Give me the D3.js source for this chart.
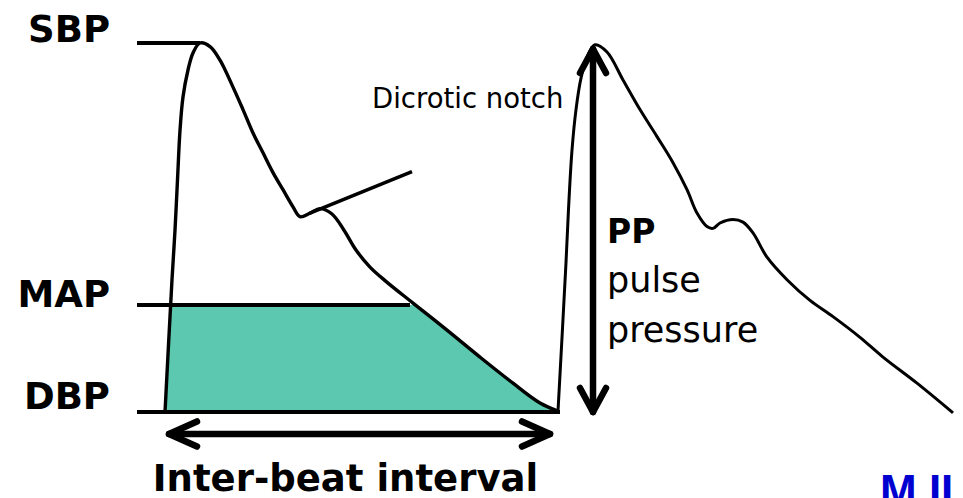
<!DOCTYPE html>
<html>
<head>
<meta charset="utf-8">
<script src="https://cdn.jsdelivr.net/npm/d3@7"></script>
<style>
  html, body { margin: 0; padding: 0; background: #fff; }
  svg { display: block; }
</style>
</head>
<body>
<div id="chart"></div>
<script>
// arterial pressure trace, two beats: time in ms, pressure in mmHg
const timeMs = [
  0, 14, 20, 25, 30, 36, 46, 56, 70, 90, 110, 136, 156, 176, 196, 216, 236, 256, 270,
  290, 310, 334, 358, 382, 410, 440, 496, 564, 630, 696, 750, 786,
  802, 808, 814, 822, 832, 844, 860, 884, 916, 950, 984, 1016, 1044, 1064, 1084, 1096,
  1110, 1136, 1156, 1176, 1204, 1244, 1290, 1336, 1390, 1436, 1504, 1576
];
const pressure = [
  80, 94.7, 100.2, 105.8, 111.3, 115, 118, 119.9, 121, 120.6, 119.1, 116.1, 113.6, 111, 108.8, 106.6, 104.7, 102.8, 101.7,
  102.1, 102.6, 102, 100.2, 98, 96.1, 94.6, 92.1, 89.1, 86.1, 83.2, 81, 80.1,
  96.6, 103.6, 109.1, 113.6, 117.1, 119.4, 120.8, 120, 116.9, 113.6, 110.6, 107.7, 104.7, 102.1, 100.6, 100.4,
  101, 101.4, 101.1, 99.9, 97.2, 94.7, 92.4, 90.6, 88.3, 86.1, 83.2, 79.9
];
const beatOnsets = [0, 786];

// reference levels
const levelNames = ["SBP", "MAP", "DBP"];
const levelValues = [121, 91.9, 80];

// annotations
const notchTime = 290;
const peakTime2 = 856;
const ppLabel = "PP";
const ppText = ["pulse", "pressure"];
const notchText = "Dicrotic notch";
const intervalText = "Inter-beat interval";

const width = 963, height = 498;
const teal = "#5bc8af";
const font = "'DejaVu Sans', Verdana, sans-serif";

const x = d3.scaleLinear().domain([0, 786]).range([165, 558]);
const y = d3.scaleLinear().domain([80, 121]).range([412, 43]);

const svg = d3.select("#chart").append("svg")
    .attr("width", width)
    .attr("height", height);

const points = timeMs.map((t, i) => ({t: t, p: pressure[i]}));
const beats = beatOnsets.map((t0, i) => {
    const t1 = i + 1 < beatOnsets.length ? beatOnsets[i + 1] : Infinity;
    return points.filter(d => d.t >= t0 && d.t <= t1);
});

const sbp = levelValues[0], map = levelValues[1], dbp = levelValues[2];

const line = d3.line()
    .x(d => x(d.t))
    .y(d => y(d.p))
    .curve(d3.curveCatmullRom.alpha(0.5));

// teal area between DBP and MAP under the first beat
svg.append("clipPath").attr("id", "mapclip")
  .append("rect")
    .attr("x", 0)
    .attr("y", y(map))
    .attr("width", width)
    .attr("height", y(dbp) - y(map));

svg.append("path")
    .datum(beats[0])
    .attr("clip-path", "url(#mapclip)")
    .attr("fill", teal)
    .attr("d", d3.area()
        .x(d => x(d.t))
        .y0(y(dbp))
        .y1(d => y(d.p))
        .curve(d3.curveCatmullRom.alpha(0.5)));

// level lines: they start in the label gutter and stop where they meet the trace
const levelEnds = [70, 490, 790];
svg.selectAll(".level")
    .data(levelNames)
    .enter().append("line")
    .attr("class", "level")
    .attr("x1", x(-56))
    .attr("x2", (d, i) => x(levelEnds[i]))
    .attr("y1", (d, i) => y(levelValues[i]))
    .attr("y2", (d, i) => y(levelValues[i]))
    .attr("stroke", "#000")
    .attr("stroke-width", 4);

const labelDy = [-1, 2, -3];
svg.selectAll(".levelLabel")
    .data(levelNames)
    .enter().append("text")
    .attr("class", "levelLabel")
    .attr("x", 110)
    .attr("y", (d, i) => y(levelValues[i]) + labelDy[i])
    .attr("text-anchor", "end")
    .style("font", "bold 37px " + font)
    .text(d => d);

// pressure traces
svg.selectAll(".beat")
    .data(beats)
    .enter().append("path")
    .attr("class", "beat")
    .attr("fill", "none")
    .attr("stroke", "#000")
    .attr("stroke-width", (d, i) => i == 0 ? 3.4 : 3)
    .attr("stroke-linejoin", "round")
    .attr("d", line);

// dicrotic notch pointer
const notchP = pressure[timeMs.indexOf(notchTime)];
svg.append("line")
    .attr("x1", x(notchTime))
    .attr("y1", y(notchP))
    .attr("x2", x(494))
    .attr("y2", y(106.7))
    .attr("stroke", "#000")
    .attr("stroke-width", 3.5);

svg.append("text")
    .attr("x", 372)
    .attr("y", 108)
    .style("font", "27.5px " + font)
    .text(notchText);

// double headed arrows
function arrow(x1, y1, x2, y2, head, spread) {
    const a = Math.atan2(y2 - y1, x2 - x1);
    const g = svg.append("g")
        .attr("fill", "none")
        .attr("stroke", "#000")
        .attr("stroke-width", 6.5)
        .attr("stroke-linecap", "round")
        .attr("stroke-linejoin", "round");
    g.append("line").attr("x1", x1).attr("y1", y1).attr("x2", x2).attr("y2", y2);
    [[x1, y1, a], [x2, y2, a + Math.PI]].forEach(function(e) {
        const ux = Math.cos(e[2]), uy = Math.sin(e[2]);
        const pts = [
            [e[0] + ux * head - uy * spread, e[1] + uy * head + ux * spread],
            [e[0], e[1]],
            [e[0] + ux * head + uy * spread, e[1] + uy * head - ux * spread]
        ];
        g.append("path").attr("d", d3.line()(pts));
    });
}

// pulse pressure arrow from SBP down to DBP
arrow(x(peakTime2), y(sbp) + 6, x(peakTime2), y(dbp), 24, 13);
// inter-beat interval arrow
arrow(x(beatOnsets[0]) + 4, y(dbp) + 22, x(beatOnsets[1]) - 8, y(dbp) + 22, 28, 12.5);

svg.append("text")
    .attr("x", 607)
    .attr("y", 243)
    .style("font", "bold 33px " + font)
    .text(ppLabel);

svg.selectAll(".ppText")
    .data(ppText)
    .enter().append("text")
    .attr("class", "ppText")
    .attr("x", 607)
    .attr("y", (d, i) => 292 + i * 50)
    .style("font", "35px " + font)
    .text(d => d);

svg.append("text")
    .attr("x", (x(beatOnsets[0]) + x(beatOnsets[1])) / 2 - 16)
    .attr("y", 491)
    .attr("text-anchor", "middle")
    .style("font", "bold 37px " + font)
    .text(intervalText);

// logo, cut off by the bottom edge
svg.append("text")
    .attr("x", 880)
    .attr("y", 506)
    .attr("fill", "#0000d0")
    .style("font", "bold 44px 'Liberation Sans Narrow', 'Liberation Sans', sans-serif")
    .text("M II");
</script>
</body>
</html>
